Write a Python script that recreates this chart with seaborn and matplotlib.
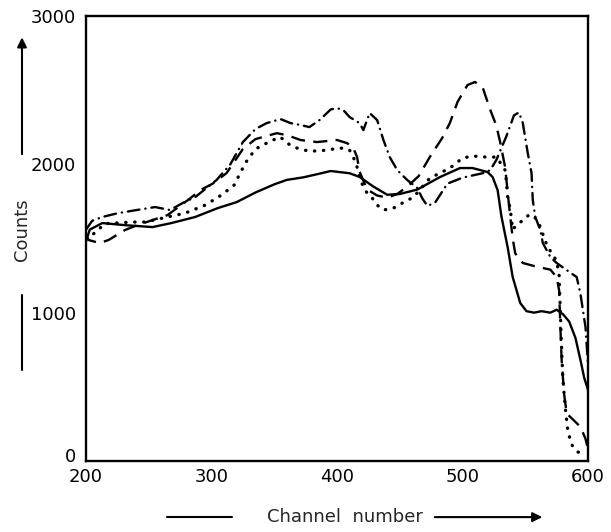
import matplotlib
matplotlib.use("Agg")
import matplotlib.pyplot as plt
import matplotlib.transforms as mtransforms
import seaborn as sns

# channel / counts, one pair of lists per trace
solid_ch = [200, 203, 213, 231, 253, 268, 287, 305, 320, 335, 350, 360, 373, 385,
            395, 410, 418, 429, 440, 450, 464, 482, 498, 508, 520, 524, 528, 531,
            536, 540, 546, 551, 557, 563, 570, 575, 580, 585, 590, 594, 597, 600]
solid_ct = [1480, 1560, 1604, 1590, 1577, 1604, 1645, 1705, 1745, 1810, 1865, 1895, 1912, 1935,
            1955, 1940, 1915, 1850, 1795, 1800, 1830, 1914, 1975, 1975, 1948, 1914, 1826, 1650,
            1440, 1240, 1065, 1010, 1000, 1010, 1000, 1020, 990, 940, 830, 680, 560, 480]

dash_ch = [200, 202, 211, 218, 231, 241, 253, 265, 279, 292, 301, 312, 325, 335,
           352, 360, 371, 384, 400, 408, 413, 416, 418, 424, 432, 440, 448, 456,
           465, 474, 484, 490, 496, 504, 510, 516, 522, 527, 530, 534, 536, 538,
           540, 542, 548, 559, 570, 575, 577, 578, 579, 581, 583, 588, 594, 598, 600]
dash_ct = [1530, 1490, 1469, 1490, 1557, 1590, 1624, 1658, 1745, 1830, 1870, 1941, 2103, 2170,
           2210, 2197, 2164, 2150, 2164, 2143, 2110, 2049, 1950, 1830, 1790, 1775, 1800, 1850,
           1920, 2050, 2180, 2280, 2420, 2535, 2555, 2520, 2370, 2260, 2150, 1980, 1810, 1650,
           1500, 1400, 1335, 1310, 1290, 1240, 1150, 900, 680, 450, 320, 280, 230, 150, 80]

dot_ch = [200, 207, 215, 237, 247, 265, 279, 295, 308, 318, 327, 335, 347, 355,
          360, 368, 377, 386, 397, 405, 410, 413, 416, 418, 421, 424, 428, 432,
          437, 445, 452, 461, 474, 482, 490, 500, 508, 519, 527, 531, 534, 535,
          536, 538, 540, 544, 548, 553, 557, 561, 564, 567, 571, 575, 577, 578,
          579, 580, 582, 584, 587, 592, 598]
dot_ct = [1500, 1537, 1600, 1611, 1611, 1645, 1671, 1725, 1793, 1860, 2009, 2103, 2157, 2184,
          2143, 2110, 2090, 2090, 2103, 2110, 2096, 2049, 1981, 1914, 1847, 1806, 1773, 1725,
          1692, 1705, 1739, 1779, 1907, 1941, 1975, 2042, 2056, 2049, 2049, 2000, 1960, 1880,
          1780, 1700, 1560, 1600, 1620, 1660, 1650, 1600, 1530, 1460, 1400, 1350, 1250, 1000,
          750, 550, 350, 200, 110, 60, 55]

dd_ch = [200, 205, 213, 225, 239, 255, 267, 277, 287, 304, 315, 325, 335, 344,
         355, 363, 371, 378, 386, 395, 400, 405, 410, 418, 421, 426, 432, 437,
         442, 448, 456, 464, 468, 472, 478, 488, 500, 516, 522, 527, 535, 541,
         545, 548, 552, 555, 556, 558, 562, 564, 570, 575, 583, 591, 594, 598, 600]
dd_ct = [1560, 1620, 1645, 1670, 1690, 1712, 1692, 1739, 1779, 1894, 2000, 2150, 2238, 2278,
         2305, 2278, 2265, 2251, 2298, 2370, 2379, 2366, 2319, 2278, 2231, 2346, 2298, 2164,
         2049, 1961, 1894, 1840, 1770, 1720, 1740, 1870, 1910, 1940, 1960, 2030, 2190, 2330,
         2350, 2280, 2076, 1941, 1759, 1645, 1557, 1469, 1375, 1335, 1287, 1240, 1126, 903, 650]

sns.set_style("white")
plt.rcParams['font.family'] = ['DejaVu Sans']

fig = plt.figure(figsize=(6.11, 5.32), dpi=100)
ax = fig.add_axes([86 / 611, 1 - 461 / 532, 502 / 611, 445 / 532])

lw = 1.7
sns.lineplot(x=solid_ch, y=solid_ct, ax=ax, color="black", lw=lw)
sns.lineplot(x=dash_ch, y=dash_ct, ax=ax, color="black", lw=lw,
             linestyle=(0, (6, 3.5)))
sns.lineplot(x=dot_ch, y=dot_ct, ax=ax, color="black", lw=2.4,
             linestyle=(0, (0.1, 2.6)), dash_capstyle="round")
sns.lineplot(x=dd_ch, y=dd_ct, ax=ax, color="black", lw=lw,
             linestyle=(0, (5, 2.5, 0.1, 2.5)), dash_capstyle="round")

ax.set_xlim(200, 600)
ax.set_ylim(0, 3000)
for s in ax.spines.values():
    s.set_color("black")
    s.set_linewidth(1.7)

ax.set_xticks([200, 300, 400, 500, 600])
ax.set_yticks([0, 1000, 2000, 3000])
ax.tick_params(axis="both", direction="in", length=11, width=1.6,
               labelsize=13, colors="black")
ax.tick_params(axis="x", pad=5)
ax.tick_params(axis="y", pad=7)
# only the inner ticks were drawn on the original
for t in [ax.xaxis.get_major_ticks()[0], ax.xaxis.get_major_ticks()[-1],
          ax.yaxis.get_major_ticks()[0], ax.yaxis.get_major_ticks()[-1]]:
    t.tick1line.set_visible(False)
ax.set_xlabel("")
ax.set_ylabel("")

# the "0" sits a little above the corner so it clears "200"
fig.canvas.draw()
zero = ax.yaxis.get_major_ticks()[0].label1
zero.set_transform(zero.get_transform() +
                   mtransforms.ScaledTranslation(0, 6 / 100, fig.dpi_scale_trans))

# axis titles with the hand-drawn arrows
fig.text(0.036, 0.568, "Counts", rotation=90, ha="center", va="center",
         fontsize=13)
fig.add_artist(matplotlib.patches.FancyArrowPatch(
    (0.036, 0.705), (0.036, 0.935), transform=fig.transFigure,
    arrowstyle="-|>", mutation_scale=14, color="black", lw=1.5))
fig.add_artist(matplotlib.lines.Line2D([0.036, 0.036], [0.445, 0.305],
                                       transform=fig.transFigure, color="black", lw=1.5))

fig.text(0.565, 0.028, "Channel  number", ha="center", va="center", fontsize=13)
fig.add_artist(matplotlib.lines.Line2D([167 / 611, 232 / 611], [0.028, 0.028],
                                       transform=fig.transFigure, color="black", lw=1.5))
fig.add_artist(matplotlib.patches.FancyArrowPatch(
    (432 / 611, 0.028), (545 / 611, 0.028), transform=fig.transFigure,
    arrowstyle="-|>", mutation_scale=14, color="black", lw=1.5))

fig.savefig("out.png", dpi=100)
